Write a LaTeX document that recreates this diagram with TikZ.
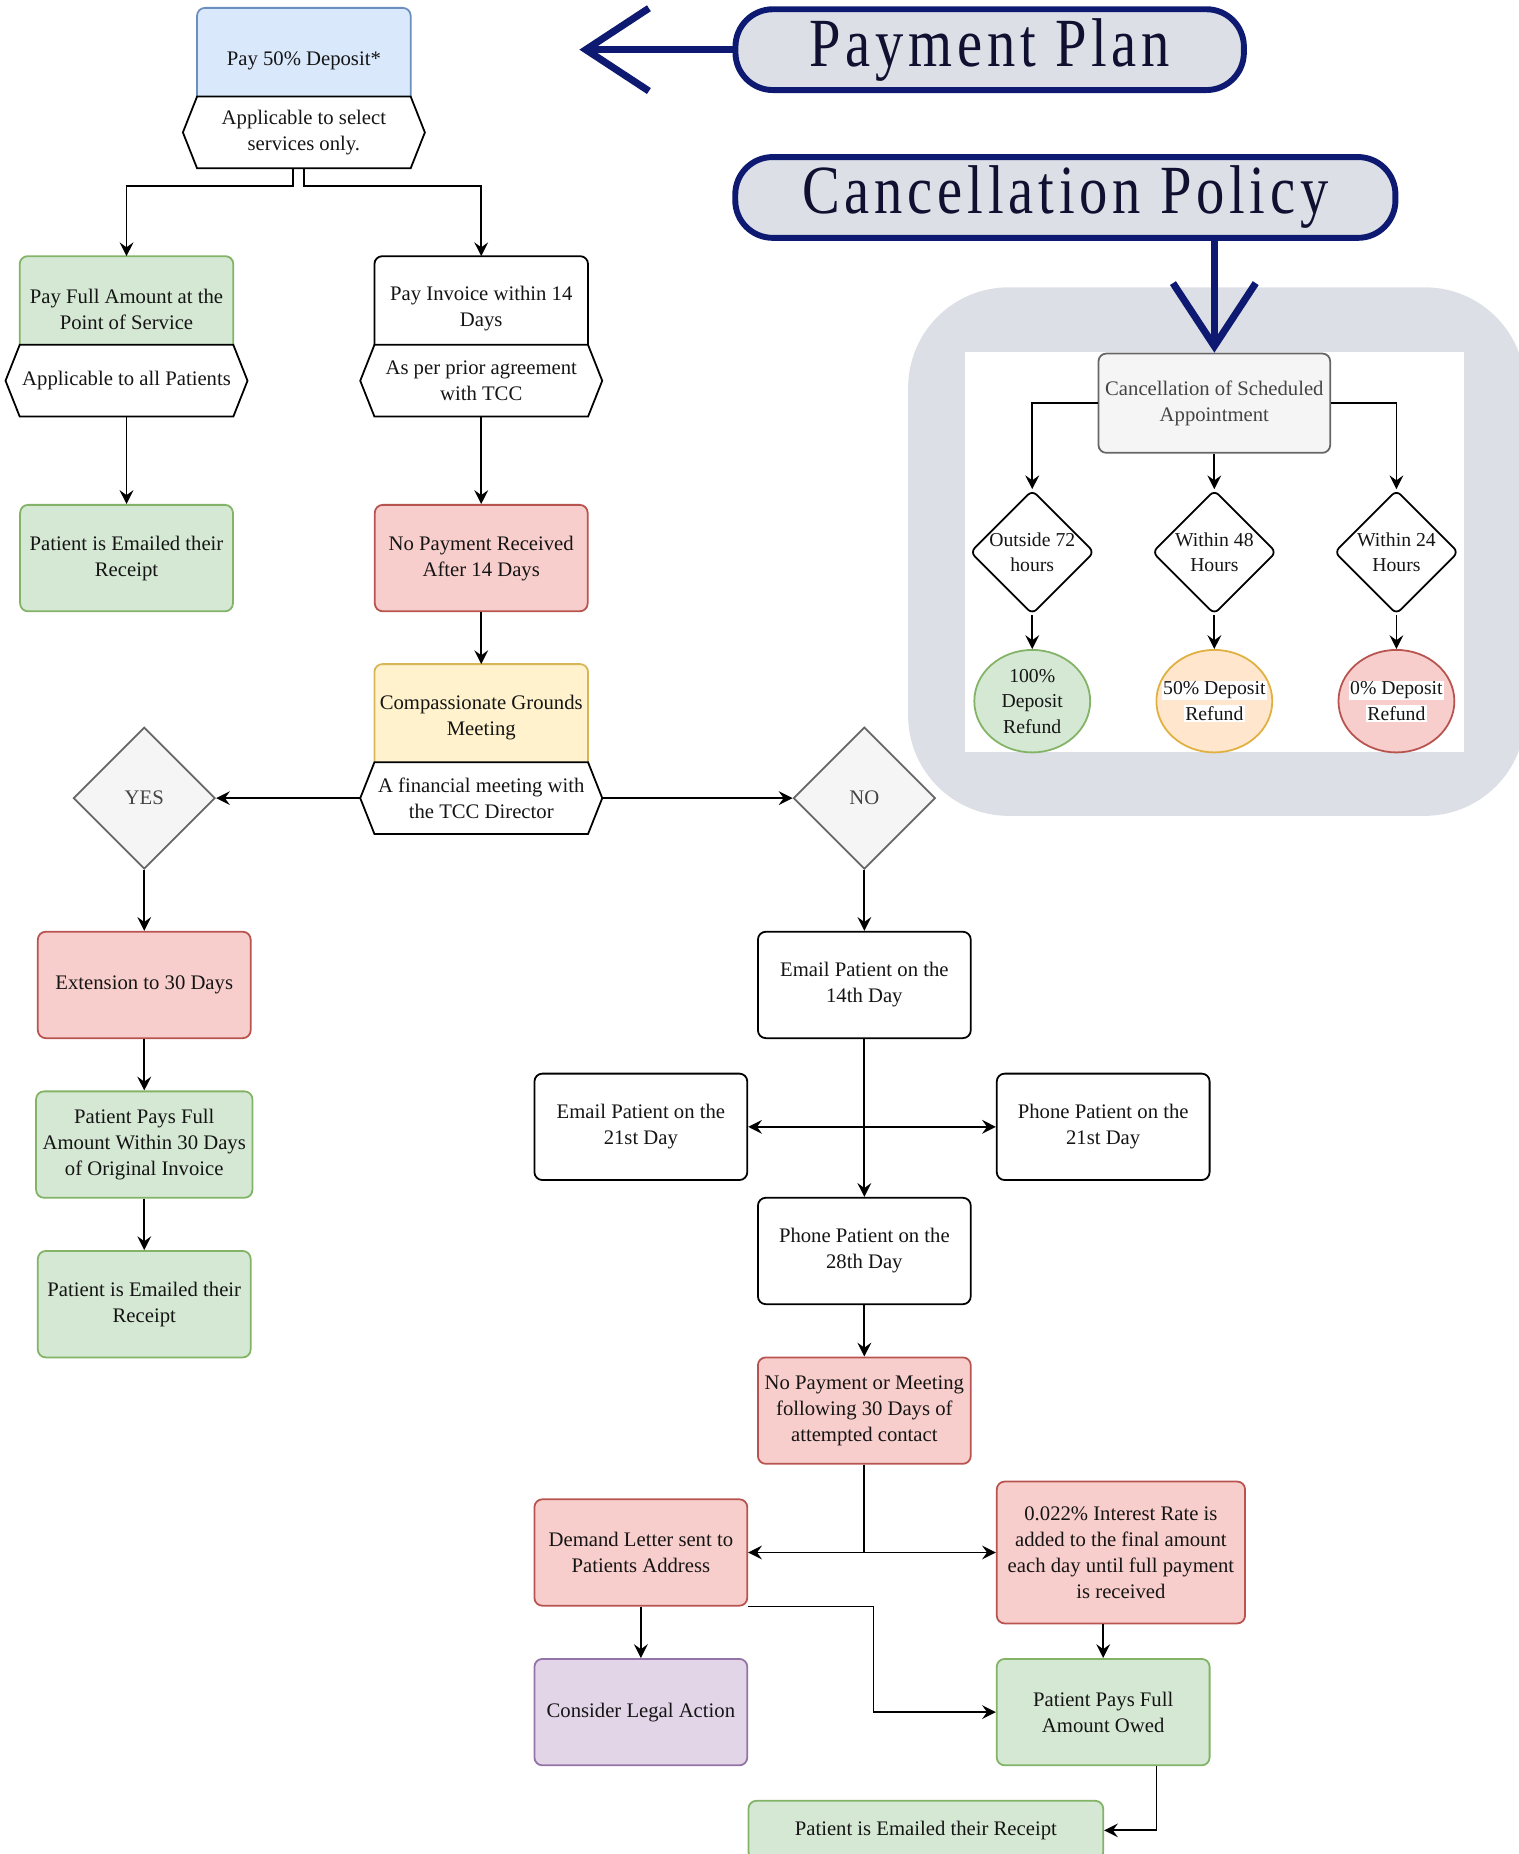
\documentclass[tikz,border=0pt]{standalone}
\usepackage{fontspec}
\setmainfont{Liberation Serif}
\newfontfamily\titlefont[FakeStretch=0.82,LetterSpace=7]{Liberation Serif}
\usepackage{tikz}
\usepackage{xcolor}
\usetikzlibrary{positioning,shapes.geometric,arrows.meta,backgrounds}
\definecolor{bluefill}{HTML}{DAE8FC}
\definecolor{bluedraw}{HTML}{6C8EBF}
\definecolor{greenfill}{HTML}{D5E8D4}
\definecolor{greendraw}{HTML}{82B366}
\definecolor{redfill}{HTML}{F8CECC}
\definecolor{reddraw}{HTML}{B85450}
\definecolor{yellowfill}{HTML}{FFF2CC}
\definecolor{yellowdraw}{HTML}{D6B656}
\definecolor{purplefill}{HTML}{E1D5E7}
\definecolor{purpledraw}{HTML}{9673A6}
\definecolor{orangefill}{HTML}{FFE6CC}
\definecolor{orangedraw}{HTML}{E0B040}
\definecolor{grayfill}{HTML}{F5F5F5}
\definecolor{graydraw}{HTML}{666666}
\definecolor{graytext}{HTML}{444444}
\definecolor{whitefill}{HTML}{FFFFFF}
\definecolor{blackdraw}{HTML}{000000}
\definecolor{panelgray}{HTML}{DCE0E6}
\definecolor{planblue}{HTML}{0E1A72}
\definecolor{titletext}{HTML}{101030}
\definecolor{txt}{HTML}{151515}
\newcommand{\boxfont}{\fontsize{10.5}{13.2}\selectfont}
\newcommand{\smallboxfont}{\fontsize{10}{13}\selectfont}
\newcommand{\titlesize}{\titlefont\fontsize{35}{36}\selectfont}
\newcommand{\hl}[1]{{\setlength{\fboxsep}{0.6pt}\colorbox{white}{#1}}}
\tikzstyle{box} = [rectangle, draw, rounded corners=4pt, line width=0.9pt, minimum width=108pt, minimum height=54pt, align=center, font=\boxfont, text=txt]
\tikzstyle{head} = [rectangle, minimum width=108pt, minimum height=36pt, inner sep=0pt, align=center, font=\boxfont, text=txt]
\tikzstyle{note} = [rectangle, minimum width=108pt, minimum height=36pt, inner sep=0pt, align=center, font=\boxfont, text=txt]
\tikzstyle{greenbox} = [fill=greenfill, draw=greendraw]
\tikzstyle{redbox} = [fill=redfill, draw=reddraw]
\tikzstyle{purplebox} = [fill=purplefill, draw=purpledraw]
\tikzstyle{choice} = [diamond, draw=graydraw, fill=grayfill, line width=0.9pt, minimum width=72pt, minimum height=72pt, inner sep=0pt, font=\boxfont, text=graytext]
\tikzstyle{window} = [diamond, draw, line width=0.9pt, rounded corners=3pt, minimum width=63pt, minimum height=63pt, inner sep=0pt]
\tikzstyle{refund} = [ellipse, line width=0.9pt, minimum width=58.8pt, minimum height=52pt, inner sep=0pt]
\tikzstyle{inside} = [font=\smallboxfont, align=center, text=txt]
\tikzstyle{pill} = [rectangle, rounded corners=19pt, draw=planblue, line width=3pt, fill=panelgray, minimum height=41pt, font=\titlesize, text=titletext]
\tikzstyle{link} = [line width=0.9pt, -{Stealth[length=7pt,width=7pt,inset=2.5pt]}]
\tikzstyle{twoway} = [line width=0.9pt, {Stealth[length=7pt,width=7pt,inset=2.5pt]}-{Stealth[length=7pt,width=7pt,inset=2.5pt]}]
\tikzstyle{bigarrow} = [draw=planblue, line width=3.6pt, -{Straight Barb[length=32pt,width=42pt]}]

\begin{document}
\begin{tikzpicture}[x=0.6pt, y=-0.6pt]
	\useasboundingbox (0,0) rectangle (1284,1568);
	\fill[panelgray, rounded corners=51pt] (768,243) rectangle (1290,690);
	\fill[white] (816,298) rectangle (1238,636);

	\node[pill, minimum width=258pt] (plan) at (837,42) {Payment Plan};
	\node[pill, minimum width=335pt] (policy) at (901,167) {Cancellation Policy};
	\coordinate (plantip) at (490,42);

	\node[note] (dephex) at (257,112) {Applicable to select\\services only.};
	\node[head, above=0pt of dephex] (dep) {Pay 50\% Deposit*};
	\node[note] (fullhex) at (107,322) {Applicable to all Patients};
	\node[head, above=0pt of fullhex] (full) {Pay Full Amount at the\\Point of Service};
	\node[box, greenbox] (sent1) at (107,472) {Patient is Emailed their\\Receipt};
	\node[note] (invhex) at (407,322) {As per prior agreement\\with TCC};
	\node[head, above=0pt of invhex] (inv) {Pay Invoice within 14\\Days};
	\node[box, redbox] (nopay) at (407,472) {No Payment Received\\After 14 Days};
	\node[note] (comphex) at (407,675) {A financial meeting with\\the TCC Director};
	\node[head, minimum height=45pt, above=0pt of comphex] (comp) {Compassionate Grounds\\Meeting};

	\node[choice] (yes) at (122,675) {YES};
	\node[choice] (no) at (731,675) {NO};

	\node[box, redbox] (ext) at (122,833) {Extension to 30 Days};
	\node[box, greenbox] (paid30) at (122,968) {Patient Pays Full\\Amount Within 30 Days\\of Original Invoice};
	\node[box, greenbox] (sent2) at (122,1103) {Patient is Emailed their\\Receipt};

	\node[box] (mail14) at (731,833) {Email Patient on the\\14th Day};
	\node[box] (mail21) at (542,953) {Email Patient on the\\21st Day};
	\node[box] (call21) at (933,953) {Phone Patient on the\\21st Day};
	\node[box] (call28) at (731,1058) {Phone Patient on the\\28th Day};
	\node[box, redbox] (none30) at (731,1193) {No Payment or Meeting\\following 30 Days of\\attempted contact};
	\node[box, redbox] (demand) at (542,1313) {Demand Letter sent to\\Patients Address};
	\node[box, redbox, minimum width=126pt, minimum height=72pt] (interest) at (948,1313) {0.022\% Interest Rate is\\added to the final amount\\each day until full payment\\is received};
	\node[box, purplebox] (legal) at (542,1448) {Consider Legal Action};
	\node[box, greenbox] (owed) at (933,1448) {Patient Pays Full\\Amount Owed};
	\node[box, greenbox, minimum width=180pt, minimum height=30pt] (sent3) at (783,1548) {Patient is Emailed their Receipt};

	\node[box, fill=grayfill, draw=graydraw, text=graytext, minimum width=117.6pt, minimum height=50.4pt] (cancel) at (1027,341) {Cancellation of Scheduled\\Appointment};
	\node[window, label={[inside]center:{Outside 72\\hours}}] (d72) at (873,467) {};
	\node[window, label={[inside]center:{Within 48\\Hours}}] (d48) at (1027,467) {};
	\node[window, label={[inside]center:{Within 24\\Hours}}] (d24) at (1181,467) {};
	\node[refund, greenbox, label={[inside]center:{100\%\\Deposit\\Refund}}] (r100) at (873,593) {};
	\node[refund, fill=orangefill, draw=orangedraw, label={[inside]center:{\hl{50\% Deposit}\\\hl{Refund}}}] (r50) at (1027,593) {};
	\node[refund, redbox, label={[inside]center:{\hl{0\% Deposit}\\\hl{Refund}}}] (r0) at (1181,593) {};

	\begin{scope}[on background layer]
		\foreach \h/\t/\f/\d in {dep/75/bluefill/bluedraw, full/75/greenfill/greendraw, inv/75/whitefill/blackdraw, comp/83/yellowfill/yellowdraw}
			\filldraw[fill=\f, draw=\d, line width=0.9pt, rounded corners=4pt] (\h.south west) -- ++(0,-\t) -| (\h.south east);
	\end{scope}
	\foreach \h in {dephex, fullhex, invhex, comphex}
		\draw[line width=0.9pt] (\h.north west) -- (\h.north east) -- ([xshift=7.2pt]\h.east) -- (\h.south east) -- (\h.south west) -- ([xshift=-7.2pt]\h.west) -- cycle;

	\draw[link] ([xshift=-5.4pt]dephex.south) -- ++(0,15) -| ([yshift=45pt]fullhex.north);
	\draw[link] (dephex.south) -- ++(0,15) -| ([yshift=45pt]invhex.north);
	\draw[link] (fullhex) -- (sent1);
	\draw[link] (invhex) -- (nopay);
	\draw[link] (nopay) -- ([yshift=49.8pt]comphex.north);
	\draw[link] ([xshift=-7.2pt]comphex.west) -- (yes.east);
	\draw[link] ([xshift=7.2pt]comphex.east) -- (no.west);
	\draw[link] (yes) -- (ext);
	\draw[link] (ext) -- (paid30);
	\draw[link] (paid30) -- (sent2);
	\draw[link] (no) -- (mail14);
	\draw[link] (mail14) -- (call28);
	\draw[twoway] (mail21) -- (call21);
	\draw[link] (call28) -- (none30);
	\draw[link] (none30.south) |- (demand.east);
	\draw[link] (none30.south) |- (interest.west);
	\draw[link] (demand) -- (legal);
	\draw[link] (demand.south east) -- ++(106,0) |- (owed.west);
	\draw[link] (owed.north |- interest.south) -- (owed.north);
	\draw[link] ([xshift=27pt]owed.south) |- (sent3.east);

	\draw[link] (cancel.west) -| (d72.north);
	\draw[link] (cancel) -- (d48);
	\draw[link] (cancel.east) -| (d24.north);
	\draw[link] (d72) -- (r100);
	\draw[link] (d48) -- (r50);
	\draw[link] (d24) -- (r0);

	\draw[bigarrow] (plan) -- (plantip);
	\draw[bigarrow] (policy.south -| cancel.north) -- (cancel.north);
\end{tikzpicture}
\end{document}
